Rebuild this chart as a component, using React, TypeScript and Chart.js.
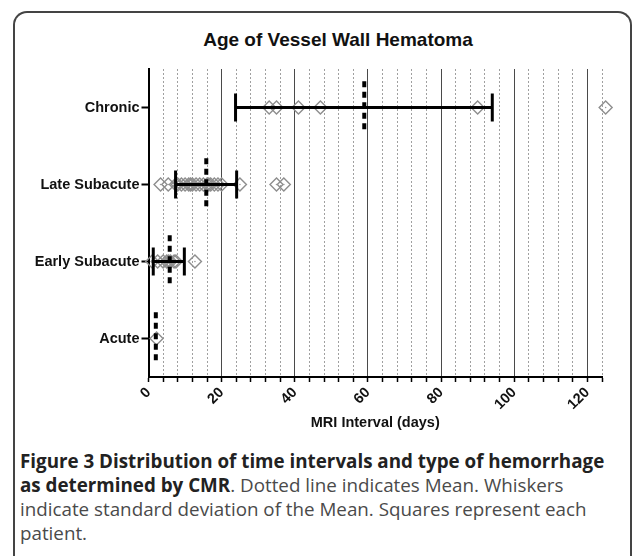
import React, { useEffect, useRef } from 'react';
import { Chart, registerables } from 'chart.js';

Chart.register(...registerables);

// Categories from bottom (index 0) to top (index 3)
const categories = ['Acute', 'Early Subacute', 'Late Subacute', 'Chronic'];

// Individual patients (days)
const acuteDays = [2.2];
const earlySubacuteDays = [1, 2.5, 4, 5, 5.5, 6, 7, 7.5, 12.7];
const lateSubacuteDays = [3.3, 5.4, 7.5, 8, 9, 10, 11, 11.5, 12, 13, 14, 15, 16, 16.5, 17, 18, 19, 20, 25, 35, 37];
const chronicDays = [33, 35, 41, 47, 90, 125];

// Mean and +/- SD whiskers, per category index
const meanDays = [2, 5.8, 15.8, 59];
const sdLowDays = [null, 1.3, 7.4, 23.8];
const sdHighDays = [null, 9.8, 24.1, 94];

// X axis
const xMin = 0;
const xMax = 124;
const xStep = 4;
const xLabelValues = [0, 20, 40, 60, 80, 100, 120];

const patientSets = [acuteDays, earlySubacuteDays, lateSubacuteDays, chronicDays];

export default function App() {
  const canvasRef = useRef<HTMLCanvasElement | null>(null);

  useEffect(() => {
    if (!canvasRef.current) return;
    Chart.defaults.font.family = '"Liberation Sans", Arial, sans-serif';

    const points: { x: number; y: number }[] = [];
    patientSets.forEach((arr, i) => arr.forEach((v) => points.push({ x: v, y: i })));

    const datasets: any[] = [];

    // Means (dotted vertical)
    meanDays.forEach((m, i) => {
      datasets.push({
        type: 'scatter',
        data: [
          { x: m, y: i + 0.34 },
          { x: m, y: i - 0.34 },
        ],
        showLine: true,
        borderColor: '#000',
        borderWidth: 4,
        borderDash: [6, 4.5],
        borderCapStyle: 'butt',
        pointRadius: 0,
        order: 0,
        clip: false,
      });
    });

    // SD whiskers
    sdLowDays.forEach((lo, i) => {
      const hi = sdHighDays[i];
      if (lo == null || hi == null) return;
      datasets.push({
        type: 'scatter',
        data: [
          { x: lo, y: i },
          { x: hi, y: i },
        ],
        showLine: true,
        borderColor: '#000',
        borderWidth: 3,
        pointStyle: 'line',
        rotation: 90,
        pointRadius: 14,
        pointBorderWidth: 3,
        pointBorderColor: '#000',
        order: 1,
        clip: false,
      });
    });

    // Center dots of the symbols
    datasets.push({
      type: 'scatter',
      data: points,
      pointStyle: 'circle',
      pointRadius: 0.8,
      pointBackgroundColor: '#9a9a9a',
      pointBorderWidth: 0,
      order: 2,
      clip: false,
    });

    // Patients (diamonds)
    datasets.push({
      type: 'scatter',
      data: points,
      pointStyle: 'rectRot',
      pointRadius: 6.5,
      pointBackgroundColor: 'rgba(255,255,255,0)',
      pointBorderColor: '#8e8e8e',
      pointBorderWidth: 1.4,
      order: 3,
      clip: false,
    });

    const chart = new Chart(canvasRef.current, {
      type: 'scatter',
      data: { datasets },
      options: {
        animation: false,
        responsive: false,
        events: [],
        layout: { padding: { top: 69, right: 31, left: 0, bottom: 0 } },
        plugins: {
          legend: { display: false },
          tooltip: { enabled: false },
          title: { display: false },
        },
        scales: {
          x: {
            type: 'linear',
            min: xMin,
            max: xMax,
            afterFit: (s: any) => {
              s.height = 63;
            },
            ticks: {
              stepSize: xStep,
              autoSkip: false,
              minRotation: 45,
              maxRotation: 45,
              padding: 2,
              color: '#111',
              font: { size: 14.5, weight: 'bold' },
              callback: (v: any) => (xLabelValues.includes(Number(v)) ? String(v) : ''),
            },
            grid: {
              drawOnChartArea: true,
              color: (ctx: any) =>
                ctx.tick && ctx.tick.value % 20 === 0 ? '#4a4a4a' : '#a0a0a0',
              lineWidth: 1,
              tickColor: '#000',
              tickLength: 5,
              tickWidth: 1.5,
            },
            border: {
              display: true,
              color: '#000',
              width: 2,
              dash: (ctx: any) => (ctx.tick && ctx.tick.value % 20 === 0 ? [] : [2, 2]),
            },
            title: {
              display: true,
              text: 'MRI Interval (days)',
              color: '#111',
              font: { size: 14.5, weight: 'bold' },
              padding: { top: 0, bottom: 8 },
            },
          },
          y: {
            type: 'linear',
            min: -0.5,
            max: 3.5,
            afterFit: (s: any) => {
              s.width = 148.5;
            },
            afterBuildTicks: (s: any) => {
              s.ticks = categories.map((_, i) => ({ value: i }));
            },
            ticks: {
              padding: 2,
              color: '#111',
              font: { size: 14.5, weight: 'bold' },
              callback: (v: any) => categories[Number(v)] ?? '',
            },
            grid: {
              drawOnChartArea: false,
              tickColor: '#000',
              tickLength: 7,
              tickWidth: 2,
            },
            border: { display: true, color: '#000', width: 2 },
          },
        },
      },
    });
    return () => chart.destroy();
  }, []);

  return (
    <div>
      <div
        style={{
          position: 'absolute',
          left: 13,
          top: 11,
          width: 619,
          height: 545,
          boxSizing: 'border-box',
          border: '2px solid #444',
          borderBottom: 'none',
          borderRadius: '14px 14px 0 0',
        }}
      />
      <div
        style={{
          position: 'absolute',
          left: 138,
          top: 28,
          width: 400,
          textAlign: 'center',
          fontFamily: '"Liberation Sans", Arial, sans-serif',
          fontWeight: 'bold',
          fontSize: 19,
          lineHeight: '24px',
          color: '#111',
        }}
      >
        Age of Vessel Wall Hematoma
      </div>
      <canvas
        ref={canvasRef}
        width={633}
        height={440}
        style={{ position: 'absolute', left: 0, top: 0, width: 633, height: 440 }}
      />
      <div
        style={{
          position: 'absolute',
          left: 20,
          top: 449,
          width: 610,
          fontFamily: '"Open Sans", sans-serif',
          fontSize: 18.8,
          lineHeight: '24px',
          color: '#4a4a4a',
          whiteSpace: 'nowrap',
        }}
      >
        <span style={{ fontWeight: 700, color: '#222' }}>
          Figure 3 Distribution of time intervals and type of hemorrhage
        </span>
        <br />
        <span style={{ fontWeight: 700, color: '#222' }}>as determined by CMR</span>. Dotted line
        indicates Mean. Whiskers
        <br />
        indicate standard deviation of the Mean. Squares represent each
        <br />
        patient.
      </div>
    </div>
  );
}
